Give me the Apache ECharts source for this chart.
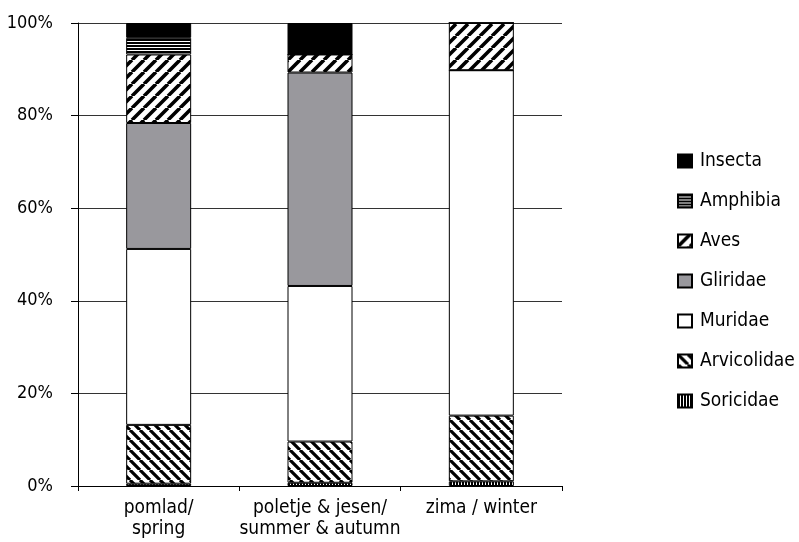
<!DOCTYPE html>
<html><head><meta charset="utf-8">
<script src="https://cdn.jsdelivr.net/npm/echarts@6/dist/echarts.min.js"></script>
<style>html,body{margin:0;padding:0;background:#fff}#c{width:799px;height:542px}</style>
</head><body><div id="c"></div>
<script>
const categories = ['pomlad/\nspring', 'poletje & jesen/\nsummer & autumn', 'zima / winter'];
const seriesNames = ['Soricidae', 'Arvicolidae', 'Muridae', 'Gliridae', 'Aves', 'Amphibia', 'Insecta'];
const soricidae   = [0.5, 0.7, 1.0];
const arvicolidae = [12.7, 8.9, 14.2];
const muridae     = [38.0, 33.6, 74.6];
const gliridae    = [27.2, 46.1, 0];
const aves        = [14.8, 3.9, 10.2];
const amphibia    = [3.6, 0, 0];
const insecta     = [3.2, 6.8, 0];
const yTicks = [0, 20, 40, 60, 80, 100];

function makePattern(kind) {
  const c = document.createElement('canvas');
  let s;
  const ctx = c.getContext('2d');
  if (kind === 'fwd' || kind === 'back') {
    s = kind === 'fwd' ? 12 : 10;
    c.width = s; c.height = s;
    ctx.fillStyle = '#fff'; ctx.fillRect(0, 0, s, s);
    ctx.strokeStyle = '#000'; ctx.lineWidth = kind === 'fwd' ? 3.6 : 3.2;
    ctx.beginPath();
    if (kind === 'fwd') {
      for (let k = -1; k <= 1; k++) { ctx.moveTo(k * s, s); ctx.lineTo(k * s + s, 0); }
    } else {
      for (let k = -1; k <= 1; k++) { ctx.moveTo(k * s, 0); ctx.lineTo(k * s + s, s); }
    }
    ctx.stroke();
  } else if (kind === 'horiz') {
    c.width = 4; c.height = 3;
    ctx.fillStyle = '#fff'; ctx.fillRect(0, 0, 4, 3);
    ctx.fillStyle = '#000'; ctx.fillRect(0, 0, 4, 2);
  } else if (kind === 'vert') {
    c.width = 3; c.height = 4;
    ctx.fillStyle = '#fff'; ctx.fillRect(0, 0, 3, 4);
    ctx.fillStyle = '#000'; ctx.fillRect(0, 0, 2, 4);
  }
  return { image: c, repeat: 'repeat' };
}

const fills = {
  Soricidae: makePattern('vert'),
  Arvicolidae: makePattern('back'),
  Muridae: '#ffffff',
  Gliridae: '#99989d',
  Aves: makePattern('fwd'),
  Amphibia: makePattern('horiz'),
  Insecta: '#000000'
};
const dataMap = { Soricidae: soricidae, Arvicolidae: arvicolidae, Muridae: muridae, Gliridae: gliridae, Aves: aves, Amphibia: amphibia, Insecta: insecta };

const font = '"Liberation Sans Narrow", "DejaVu Sans Condensed", "Liberation Sans", sans-serif';

const chart = echarts.init(document.getElementById('c'), null, { renderer: 'canvas' });
chart.setOption({
  animation: false,
  backgroundColor: '#fff',
  grid: { left: 78, right: 237, top: 23, bottom: 56, containLabel: false },
  legend: {
    orient: 'vertical',
    left: 677, top: 151,
    padding: 0,
    data: seriesNames.slice().reverse(),
    icon: 'rect',
    itemWidth: 14, itemHeight: 13,
    itemGap: 20,
    textStyle: { fontFamily: font, fontSize: 19, color: '#000', lineHeight: 20, padding: [0, 0, 0, 3] }
  },
  xAxis: {
    type: 'category',
    data: categories,
    axisLine: { lineStyle: { color: '#000', width: 1 } },
    axisTick: { show: true, length: 5, alignWithLabel: false, lineStyle: { color: '#000' } },
    axisLabel: { fontFamily: font, fontSize: 19, color: '#000', lineHeight: 21, margin: 12, interval: 0 }
  },
  yAxis: {
    type: 'value',
    min: 0, max: 100, interval: 20,
    axisLine: { show: true, lineStyle: { color: '#000', width: 1 } },
    axisTick: { show: true, length: 7, inside: false, lineStyle: { color: '#000' } },
    splitLine: { show: true, lineStyle: { color: '#333', width: 1 } },
    axisLabel: { fontFamily: font, fontSize: 18, color: '#000', margin: 25, formatter: v => yTicks.includes(v) ? v + '%' : '' }
  },
  series: seriesNames.map(n => ({
    name: n,
    type: 'bar',
    stack: 'total',
    barWidth: 65,
    data: dataMap[n],
    itemStyle: { color: fills[n], borderColor: '#000', borderWidth: 1 },
    emphasis: { disabled: true }
  }))
});
</script>
</body></html>
